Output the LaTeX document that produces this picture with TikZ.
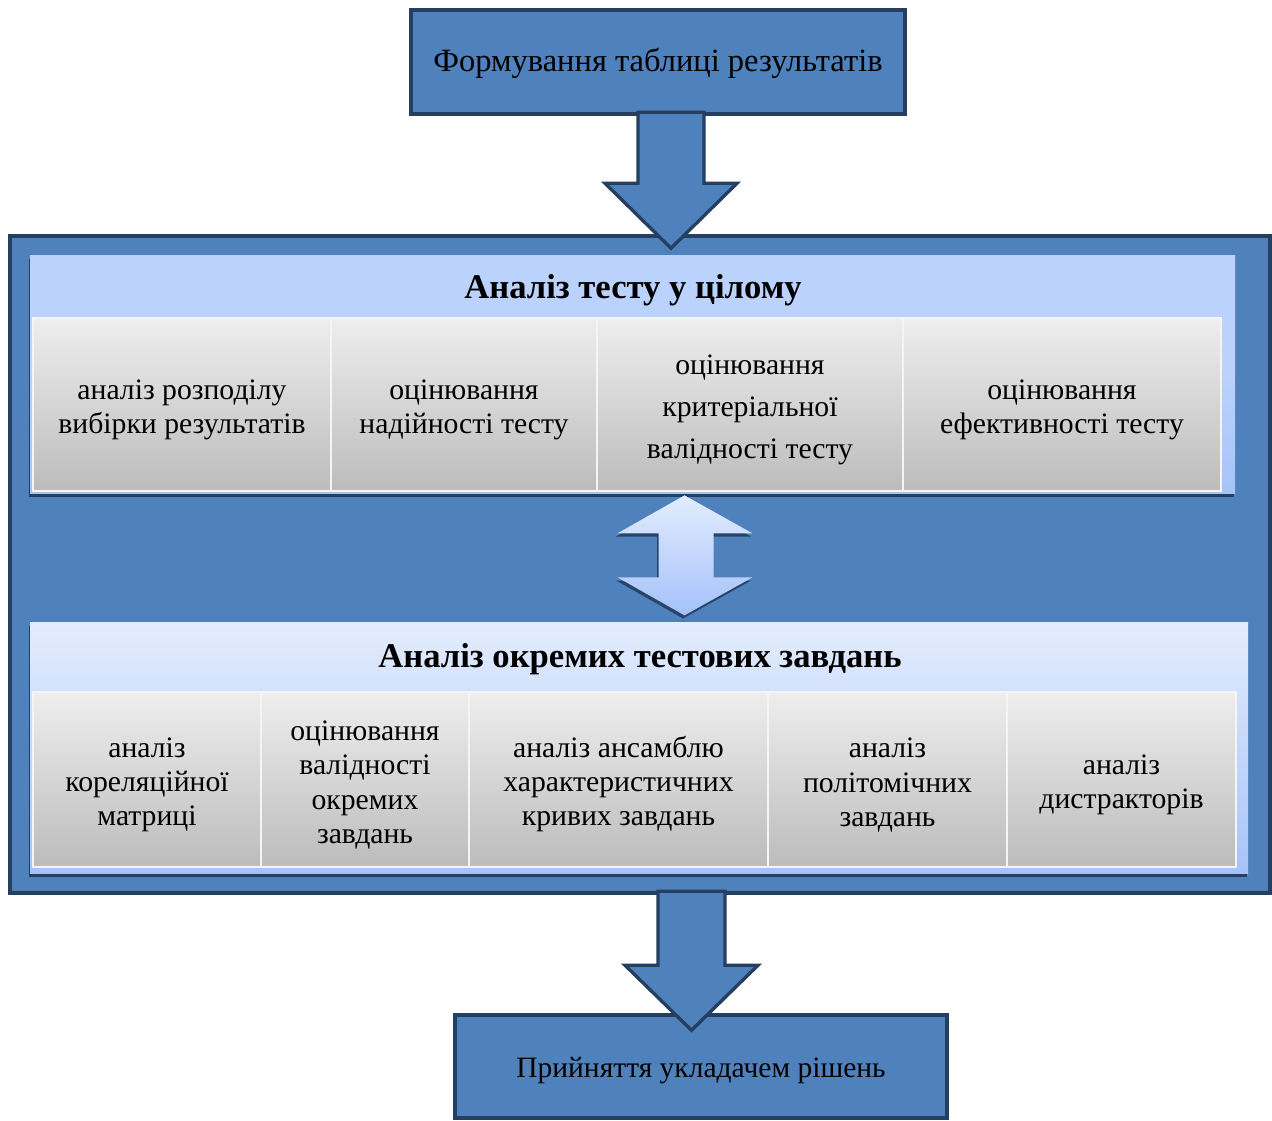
\documentclass[tikz,border=0pt]{standalone}
\usepackage{fontspec}
\setmainfont{Liberation Serif}
\usetikzlibrary{positioning, calc, shadows}
\definecolor{accblue}{HTML}{4F81BD}
\definecolor{accdark}{HTML}{243F60}
\definecolor{pantop}{HTML}{BAD2FC}
\definecolor{panbot}{HTML}{A6C3F8}
\definecolor{pan2top}{HTML}{E4EDFD}
\definecolor{celltop}{HTML}{EEEEEE}
\definecolor{cellbot}{HTML}{BCBCBC}
\definecolor{dbltop}{HTML}{E2ECFD}
\definecolor{dblbot}{HTML}{A4C1F9}
\newcommand{\cellgap}{\rule{0pt}{17.5pt}} % first line a bit taller, text sits lower
\tikzset{x=0.02cm, y=-0.02cm, % one unit is one pixel of the sketch, y runs down
sz/.style 2 args={minimum width=#1*0.02cm, minimum height=#2*0.02cm}, % size in sketch pixels
box/.style={draw=accdark, line width=2pt, fill=accblue, inner sep=0pt}, % blue boxes with dark frame
blockarrow/.style={draw=accdark, line width=1.9pt, fill=accblue, line join=miter}, % the fat arrows between boxes
panel/.style={inner sep=0pt, drop shadow={shadow xshift=-0.8pt, shadow yshift=-2.2pt, fill=accdark, opacity=1}}, % light bands inside the frame
cell/.style={draw=white!92!gray, line width=0.9pt, top color=celltop, bottom color=cellbot, align=center, inner sep=0pt,
  font=\fontsize{16.9}{19.4}\selectfont}, % grey cells
title/.style={font=\bfseries\fontsize{19.7}{22}\selectfont}, % band headings
}
\begin{document}
\begin{tikzpicture}
  \useasboundingbox (0,0) rectangle (1272,1120);
  \node[box, sz={494}{104}, font=\fontsize{18.5}{22}\selectfont, text height=15pt, text depth=4pt] (ftab) at (658,62) {Формування таблиці результатів};
  \node[box, sz={1260}{657}] (frame) at (640,564.5) {};
  \node[box, sz={492}{103}, font=\fontsize{16.8}{20}\selectfont, text height=16pt, text depth=3.8pt] (rish) at (701,1066.5) {Прийняття укладачем рішень};

  % upper band
  \node[panel, sz={1205}{238}, top color=pantop, bottom color=panbot, middle color=pantop] (tpan) at (632.5,374) {};
  \node[title] (ttl) at (633,290) {Аналіз тесту у цілому};
  \node[cell, sz={298}{173}] (tc1) at (182,404.5) {\cellgap аналіз розподілу\\вибірки результатів};
  \node[cell, sz={266}{173}] (tc2) at (464,404.5) {\cellgap оцінювання\\надійності тесту};
  \node[cell, sz={306}{173}, font=\fontsize{16.9}{24}\selectfont] (tc3) at (750,404.5) {\cellgap оцінювання\\критеріальної\\валідності тесту};
  \node[cell, sz={318}{173}] (tc4) at (1062,404.5) {\cellgap оцінювання\\ефективності тесту};

  % lower band
  \node[panel, sz={1218}{251}, top color=pan2top, bottom color=panbot] (opan) at (639,747.5) {};
  \node[title] (otl) at (640,659) {Аналіз окремих тестових завдань};
  \node[cell, sz={228}{175}] (oc1) at (147,779.5) {\cellgap аналіз\\кореляційної\\матриці};
  \node[cell, sz={208}{175}] (oc2) at (365,779.5) {\cellgap оцінювання\\валідності\\окремих\\завдань};
  \node[cell, sz={299}{175}] (oc3) at (618.5,779.5) {\cellgap аналіз ансамблю\\характеристичних\\кривих завдань};
  \node[cell, sz={239}{175}] (oc4) at (887.5,779.5) {\cellgap аналіз\\політомічних\\завдань};
  \node[cell, sz={229}{175}] (oc5) at (1121.5,779.5) {\cellgap аналіз\\дистракторів};

  % arrows
  \coordinate (tip1) at ($(frame.north)+(31,14)$);
  \draw[blockarrow] (tip1) -- ++(-66,-65) -- ++(33,0) -- ++(0,-71) -- ++(66,0) -- ++(0,71) -- ++(33,0) -- cycle;
  \coordinate (dtop) at ($(tpan.south)+(52,2)$);
  \path[top color=dbltop, bottom color=dblbot, drop shadow={shadow xshift=-0.8pt, shadow yshift=-1.8pt, fill=accdark, opacity=0.9}]
    (dtop) -- ++(68,38) -- ++(-39,0) -- ++(0,44) -- ++(39,0) -- ++(-68,38) -- ++(-67,-38) -- ++(41,0) -- ++(0,-44) -- ++(-41,0) -- cycle;
  \coordinate (tip2) at ($(rish.north)+(-9.5,17)$);
  \draw[blockarrow] (tip2) -- ++(-66.5,-65) -- ++(33,0) -- ++(0,-74) -- ++(67,0) -- ++(0,74) -- ++(33,0) -- cycle;
\end{tikzpicture}
\end{document}
